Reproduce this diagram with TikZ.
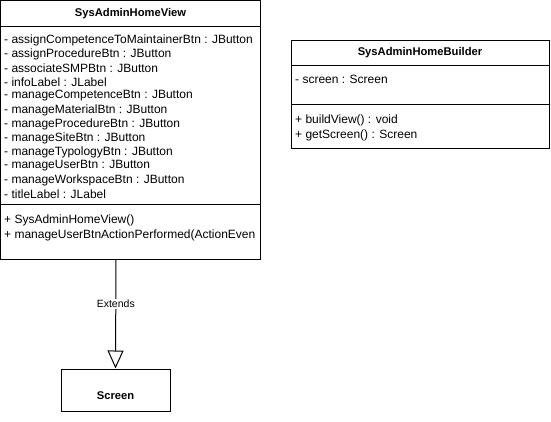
\documentclass[tikz,border=0pt]{standalone}
\usepackage{fontspec}
\setmainfont{Liberation Sans}
\usetikzlibrary{arrows.meta}
\begin{document}
\begin{tikzpicture}[x=1pt,y=-1pt,
  box/.style={draw,line width=1pt,fill=white},
  sep/.style={line width=1pt},
  txt/.style={anchor=west,inner sep=0pt,font=\fontsize{12}{14}\selectfont},
  ttl/.style={inner sep=0pt,font=\bfseries\fontsize{11.2}{13}\selectfont},
  lbl/.style={fill=white,inner sep=1pt,font=\fontsize{10.5}{12}\selectfont}]
\useasboundingbox (0,0) rectangle (551,421);
% SysAdminHomeView
\draw[box] (0.5,0.5) rectangle (260.5,259.5);
\coordinate (viewbot) at (116,259.5);
\draw[sep] (0.5,26) -- (260.5,26);
\draw[sep] (0.5,204) -- (260.5,204);
\node[ttl] (viewtitle) at (130.5,13.5) {SysAdminHomeView};
\node[txt] (a1) at (4,40) {- assignCompetenceToMaintainerBtn : JButton};
\node[txt] (a2) at (4,54) {- assignProcedureBtn : JButton};
\node[txt] (a3) at (4,68) {- associateSMPBtn : JButton};
\node[txt] (a4) at (4,82) {- infoLabel : JLabel};
\node[txt] (a5) at (4,96) {- manageCompetenceBtn : JButton};
\node[txt] (a6) at (4,110) {- manageMaterialBtn : JButton};
\node[txt] (a7) at (4,124) {- manageProcedureBtn : JButton};
\node[txt] (a8) at (4,138) {- manageSiteBtn : JButton};
\node[txt] (a9) at (4,152) {- manageTypologyBtn : JButton};
\node[txt] (a10) at (4,166) {- manageUserBtn : JButton};
\node[txt] (a11) at (4,180) {- manageWorkspaceBtn : JButton};
\node[txt] (a12) at (4,194) {- titleLabel : JLabel};
\node[txt] (m1) at (4,220) {+ SysAdminHomeView()};
\node[txt] (m2) at (4,235) {+ manageUserBtnActionPerformed(ActionEven};
% SysAdminHomeBuilder
\draw[box] (291,40) rectangle (549,148);
\draw[sep] (291,65) -- (549,65);
\draw[sep] (291,104) -- (549,104);
\node[ttl] (buildertitle) at (420,53) {SysAdminHomeBuilder};
\node[txt] (b1) at (295,79) {- screen : Screen};
\node[txt] (b2) at (295,120) {+ buildView() : void};
\node[txt] (b3) at (295,135) {+ getScreen() : Screen};
% Screen
\node[draw,line width=1pt,minimum width=109pt,minimum height=42pt,inner sep=0pt] (screen) at (115.5,390) {};
\node[ttl] (screentext) at (115.5,395.5) {Screen};
% Extends
\draw[line width=1pt,-{Triangle[open,width=16pt,length=18pt]}] (viewbot) -- (screen.north)
  node[lbl,pos=0.41] (ext) {Extends};
\end{tikzpicture}
\end{document}
